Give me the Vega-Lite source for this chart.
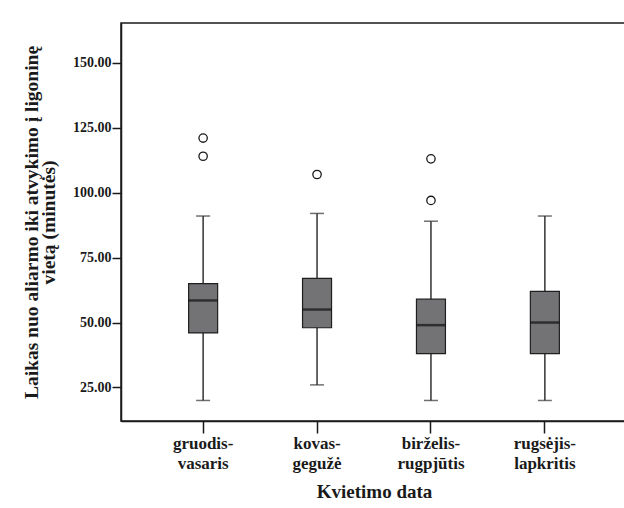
{
  "$schema": "https://vega.github.io/schema/vega-lite/v6.json",
  "autosize": "none",
  "width": 506,
  "height": 398,
  "padding": {"left": 121, "top": 23, "right": 0, "bottom": 87},
  "background": "white",
  "config": {
    "font": "Liberation Serif",
    "view": {"stroke": "#1a1a1a", "strokeWidth": 1.5}
  },
  "datasets": {
    "boxes": [
      {"cat": "gruodis-vasaris", "lo": 20, "q1": 46, "med": 58.5, "q3": 65, "hi": 91},
      {"cat": "kovas-gegužė", "lo": 26, "q1": 48, "med": 55, "q3": 67, "hi": 92},
      {"cat": "birželis-rugpjūtis", "lo": 20, "q1": 38, "med": 49, "q3": 59, "hi": 89},
      {"cat": "rugsėjis-lapkritis", "lo": 20, "q1": 38, "med": 50, "q3": 62, "hi": 91}
    ],
    "outliers": [
      {"cat": "gruodis-vasaris", "v": 121},
      {"cat": "gruodis-vasaris", "v": 114},
      {"cat": "kovas-gegužė", "v": 107},
      {"cat": "birželis-rugpjūtis", "v": 113},
      {"cat": "birželis-rugpjūtis", "v": 97}
    ]
  },
  "data": {"name": "boxes"},
  "encoding": {
    "x": {
      "field": "cat",
      "type": "nominal",
      "sort": null,
      "scale": {"paddingInner": 0.5, "paddingOuter": 0.471},
      "axis": {
        "title": "Kvietimo data",
        "titleFont": "Liberation Serif",
        "titleFontSize": 19,
        "titleFontWeight": "bold",
        "titleColor": "#1a1a1a",
        "titlePadding": 11,
        "labelAngle": 0,
        "labelFont": "Liberation Serif",
        "labelFontSize": 17,
        "labelFontWeight": "bold",
        "labelColor": "#1a1a1a",
        "labelLineHeight": 20,
        "labelPadding": 2,
        "labelExpr": "[split(datum.label, '-')[0] + '-', split(datum.label, '-')[1]]",
        "tickSize": 12,
        "tickColor": "#1a1a1a",
        "tickWidth": 1.5,
        "domainColor": "#1a1a1a",
        "domainWidth": 1.5
      }
    }
  },
  "layer": [
    {
      "mark": {"type": "rule", "color": "#333333", "strokeWidth": 1.5},
      "encoding": {
        "y": {
          "field": "lo",
          "type": "quantitative",
          "scale": {"domain": [12.1, 165.3], "nice": false, "zero": false},
          "axis": {
            "title": ["Laikas nuo aliarmo iki atvykimo į ligoninę", "vietą (minutės)"],
            "titleFont": "Liberation Serif",
            "titleFontSize": 19.5,
            "titleFontWeight": "bold",
            "titleColor": "#1a1a1a",
            "titleLineHeight": 17,
            "titlePadding": 14,
            "values": [25, 50, 75, 100, 125, 150],
            "format": ".2f",
            "grid": false,
            "labelFont": "Liberation Serif",
            "labelFontSize": 14,
            "labelFontWeight": "bold",
            "labelColor": "#1a1a1a",
            "labelPadding": 1,
            "tickSize": 9,
            "tickColor": "#1a1a1a",
            "tickWidth": 1.5,
            "domainColor": "#1a1a1a",
            "domainWidth": 1.5
          }
        },
        "y2": {"field": "hi"}
      }
    },
    {
      "mark": {"type": "tick", "color": "#333333", "size": 14, "thickness": 1.5},
      "encoding": {"y": {"field": "lo", "type": "quantitative"}}
    },
    {
      "mark": {"type": "tick", "color": "#333333", "size": 14, "thickness": 1.5},
      "encoding": {"y": {"field": "hi", "type": "quantitative"}}
    },
    {
      "mark": {"type": "bar", "size": 29, "fill": "#737376", "stroke": "#1f1f1f", "strokeWidth": 1.2},
      "encoding": {
        "y": {"field": "q1", "type": "quantitative"},
        "y2": {"field": "q3"}
      }
    },
    {
      "mark": {"type": "tick", "color": "#111111", "size": 29, "thickness": 2.5},
      "encoding": {"y": {"field": "med", "type": "quantitative"}}
    },
    {
      "data": {"name": "outliers"},
      "mark": {"type": "point", "shape": "circle", "filled": false, "size": 70, "stroke": "#1a1a1a", "strokeWidth": 1.3, "opacity": 1},
      "encoding": {
        "x": {"field": "cat", "type": "nominal", "sort": null},
        "y": {"field": "v", "type": "quantitative"}
      }
    }
  ]
}
